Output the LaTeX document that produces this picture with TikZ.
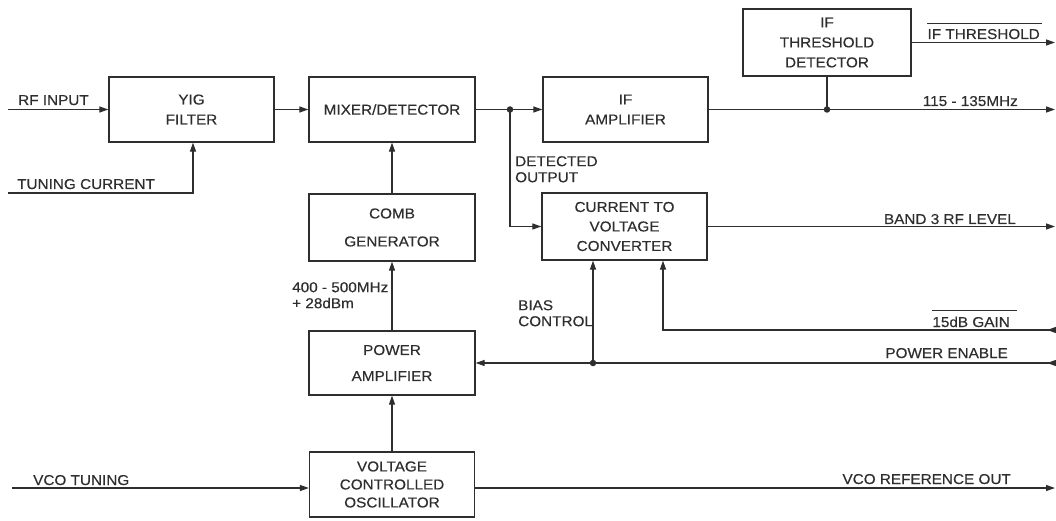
\documentclass[tikz,border=0pt]{standalone}
\usepackage{fontspec}
\setmainfont{Liberation Sans}[FakeStretch=1.07,FakeBold=0.4]
\usetikzlibrary{arrows.meta,decorations.markings}
\definecolor{ink}{HTML}{2E2E2E}
\tikzset{
 blk/.style={draw=ink, line width=1.3pt, minimum width=165pt, minimum height=65pt, inner sep=0pt, align=center, text=ink},
 ls/.style={font=\fontsize{14.3}{#1}\selectfont},
 wire/.style={draw=ink, line width=1.2pt},
 arr/.style={wire, -{Triangle[length=9pt,width=6pt]}},
 lbl/.style={inner sep=0pt, text=ink, font=\fontsize{14.3}{16}\selectfont, align=left},
 jdot/.style={circle, fill=ink, inner sep=0pt, minimum size=6.5pt},
 inarrow/.style={color=ink, postaction={decorate}, decoration={markings, mark=at position 9pt with {\arrow{Triangle[length=9pt,width=6pt]}}}},
}
\begin{document}
\begin{tikzpicture}[x=1pt,y=-1pt]
\useasboundingbox (0,0) rectangle (1056,521);
% blocks
\node[blk, ls=20] (yig) at (191.5,109.5) {YIG\\FILTER};
\node[blk, ls=20, minimum width=166pt] (mix) at (392,109.5) {MIXER/DETECTOR};
\node[blk, ls=28, minimum width=166pt, minimum height=67pt] (comb) at (392,227.5) {COMB\\GENERATOR};
\node[blk, ls=26, minimum width=166pt, minimum height=64pt] (pa) at (392,363) {POWER\\AMPLIFIER};
\node[blk, ls=18, minimum width=165pt] (vco) at (392,484.5) {VOLTAGE\\CONTROLLED\\OSCILLATOR};
\node[blk, ls=20] (ifa) at (625.5,109.5) {IF\\AMPLIFIER};
\node[blk, ls=19.5, minimum height=67pt] (c2v) at (624.5,226.5) {CURRENT TO\\VOLTAGE\\CONVERTER};
\node[blk, ls=20, minimum width=168pt, minimum height=67pt] (thr) at (827,42.5) {IF\\THRESHOLD\\DETECTOR};
% junctions
\node[jdot] (j1) at (510,109.5) {};
\node[jdot] (j2) at (827,109.5) {};
\node[jdot] (j3) at (593,363) {};
% free ends
\coordinate (rfin) at (8,109.5);
\coordinate (tcin) at (8,193);
\coordinate (tcc) at (193,193);
\coordinate (dc) at (510,226.5);
\coordinate (ifout) at (1055,109.5);
\coordinate (throut) at (1055,42.5);
\coordinate (bandout) at (1055,226.5);
\coordinate (gainin) at (1056,330);
\coordinate (gainc) at (663,330);
\coordinate (pein) at (1056,363);
\coordinate (vcoin) at (12,488);
\coordinate (vcoout) at (1055,488);
% connectors
\draw[arr] (rfin) -- (yig.west);
\draw[arr] (tcin) -- (tcc) -- (tcc |- yig.south);
\draw[arr] (yig.east) -- (mix.west);
\draw[wire] (mix.east) -- (j1.center);
\draw[arr] (j1.center) -- (ifa.west);
\draw[arr] (j1.center) -- (dc) -- (c2v.west);
\draw[arr] (ifa.east) -- (ifout);
\draw[wire] (thr.south) -- (j2.center);
\draw[arr] (thr.east) -- (throut);
\draw[arr] (c2v.east) -- (bandout);
\draw[arr] (comb.north) -- (mix.south);
\draw[arr] (pa.north) -- (comb.south);
\draw[arr] (vco.north) -- (pa.south);
\draw[arr, inarrow] (pein) -- (pa.east);
\draw[arr] (j3.center) -- (j3 |- c2v.south);
\draw[arr, inarrow] (gainin) -- (gainc) -- (gainc |- c2v.south);
\draw[arr] (vcoin) -- (vcoin -| vco.west);
\draw[arr] (vcoin -| vco.east) -- (vcoout);
% labels
\node[lbl, anchor=base west] (lrf) at (18,105) {RF INPUT};
\node[lbl, anchor=base west] (ltc) at (17,189) {TUNING CURRENT};
\node[lbl, anchor=base west] (lvt) at (33,485) {VCO TUNING};
\node[lbl, anchor=north west] (ldo) at (515,156) {DETECTED\\OUTPUT};
\node[lbl, anchor=north west] (lbc) at (518,300) {BIAS\\CONTROL};
\node[lbl, anchor=north west] (lfreq) at (292,282) {400 - 500MHz\\+ 28dBm};
\node[lbl, anchor=base east] (lthr) at (1040,39) {IF THRESHOLD};
\draw[wire, line width=1pt] ([yshift=5pt]lthr.north west) -- ([yshift=5pt,xshift=2pt]lthr.north east);
\node[lbl, anchor=base east] (l115) at (1018,106) {115 - 135MHz};
\node[lbl, anchor=base east] (lband) at (1016,224) {BAND 3 RF LEVEL};
\node[lbl, anchor=base east] (lgain) at (1010,327) {15dB GAIN};
\draw[wire, line width=1pt] ([yshift=6pt]lgain.north west) -- ([yshift=6pt,xshift=7pt]lgain.north east);
\node[lbl, anchor=base east] (lpe) at (1008,358) {POWER ENABLE};
\node[lbl, anchor=base east] (lvro) at (1011,484) {VCO REFERENCE OUT};
\end{tikzpicture}
\end{document}
